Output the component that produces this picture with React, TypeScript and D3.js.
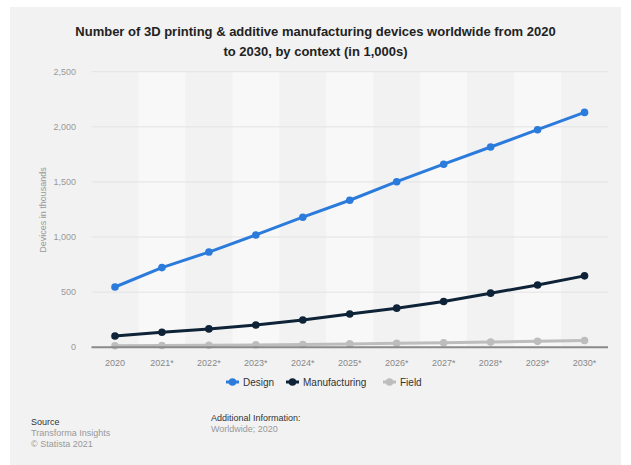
import React from "react";
import * as d3 from "d3";

const years = ["2020", "2021*", "2022*", "2023*", "2024*", "2025*", "2026*", "2027*", "2028*", "2029*", "2030*"];
const design = [547, 723, 864, 1019, 1180, 1334, 1502, 1661, 1817, 1974, 2131];
const manufacturing = [103, 137, 167, 202, 247, 302, 355, 416, 491, 565, 648];
const field = [14, 16, 19, 22, 26, 31, 36, 41, 47, 54, 62];
const yTicks = [0, 500, 1000, 1500, 2000, 2500];

const seriesNames = ["Design", "Manufacturing", "Field"];
const seriesColors = ["#2b7bdc", "#0e2337", "#bdbdbd"];

const W = 631;
const H = 465;
const plotLeft = 91.5;
const plotRight = 608;
const plotTop = 71.7;
const plotBottom = 347.3;
const font = "'Liberation Sans', Arial, Helvetica, sans-serif";

export default function App() {
  const x = d3.scaleBand<string>().domain(years).range([plotLeft, plotRight]).padding(0);
  const y = d3.scaleLinear().domain([0, 2500]).range([plotBottom, plotTop]);
  const cx = (d: string) => (x(d) as number) + x.bandwidth() / 2;
  const series = [design, manufacturing, field];
  const line = d3
    .line<number>()
    .x((_, i) => cx(years[i]))
    .y((v) => y(v));

  const legendItems = [
    { name: seriesNames[0], color: seriesColors[0], mx: 226, tx: 243 },
    { name: seriesNames[1], color: seriesColors[1], mx: 286, tx: 303 },
    { name: seriesNames[2], color: seriesColors[2], mx: 383, tx: 400 },
  ];
  const legendY = 382;

  return (
    <svg
      width={W}
      height={H}
      style={{ position: "absolute", left: 0, top: 0, fontFamily: font }}
    >
      <rect x={0} y={0} width={W} height={H} fill="#ffffff" />
      <rect x={10} y={7} width={611} height={458} fill="#f2f2f2" />

      {/* title */}
      <text x={315.5} y={36} textAnchor="middle" fontSize={13} fontWeight="bold" fill="#222">
        Number of 3D printing &amp; additive manufacturing devices worldwide from 2020
      </text>
      <text x={315.5} y={56} textAnchor="middle" fontSize={13} fontWeight="bold" fill="#222">
        to 2030, by context (in 1,000s)
      </text>

      {/* alternating bands */}
      {years.map((yr, i) =>
        i % 2 === 1 ? (
          <rect
            key={yr}
            x={x(yr) as number}
            y={plotTop}
            width={x.bandwidth()}
            height={plotBottom - plotTop}
            fill="#f8f8f8"
          />
        ) : null
      )}

      {/* gridlines */}
      {yTicks.map((t) => (
        <line key={t} x1={plotLeft} x2={plotRight} y1={y(t)} y2={y(t)} stroke="#e3e3e3" strokeWidth={1} />
      ))}

      {/* y tick labels */}
      {yTicks.map((t) => (
        <text key={t} x={76} y={y(t) + 3} textAnchor="end" fontSize={9} fill="#999">
          {d3.format(",")(t)}
        </text>
      ))}

      <text
        transform={`translate(46,210) rotate(-90)`}
        textAnchor="middle"
        fontSize={9}
        fill="#999"
      >
        Devices in thousands
      </text>

      {/* lines */}
      {series.map((s, si) => (
        <g key={si}>
          <path d={line(s) || ""} fill="none" stroke={seriesColors[si]} strokeWidth={3} strokeLinejoin="round" />
          {s.map((v, i) => (
            <circle key={i} cx={cx(years[i])} cy={y(v)} r={3.8} fill={seriesColors[si]} />
          ))}
        </g>
      )).reverse()}

      {/* x axis */}
      <line x1={plotLeft} x2={plotRight} y1={plotBottom} y2={plotBottom} stroke="#8a8a8a" strokeWidth={2} />
      {years.map((yr) => (
        <text key={yr} x={cx(yr)} y={366} textAnchor="middle" fontSize={9} fill="#888">
          {yr}
        </text>
      ))}

      {/* legend */}
      {legendItems.map((it) => (
        <g key={it.name}>
          <line x1={it.mx} x2={it.mx + 13} y1={legendY} y2={legendY} stroke={it.color} strokeWidth={3} />
          <circle cx={it.mx + 6.5} cy={legendY} r={3.8} fill={it.color} />
          <text x={it.tx} y={legendY + 3.5} fontSize={10} fill="#333">
            {it.name}
          </text>
        </g>
      ))}

      {/* footer */}
      <text x={31} y={425} fontSize={9} fill="#333">Source</text>
      <text x={31} y={435.5} fontSize={9} fill="#999">Transforma Insights</text>
      <text x={31} y={446.5} fontSize={9} fill="#999">© Statista 2021</text>
      <text x={211} y={420.5} fontSize={9} fill="#333">Additional Information:</text>
      <text x={211} y={431.5} fontSize={9} fill="#999">Worldwide; 2020</text>
    </svg>
  );
}
